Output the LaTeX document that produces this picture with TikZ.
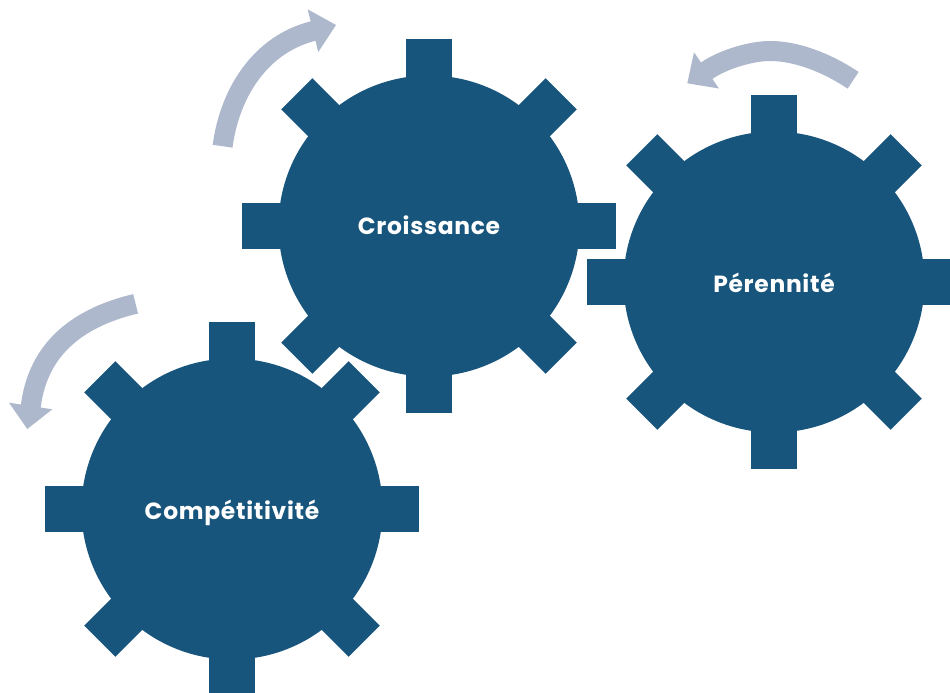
\documentclass[tikz,border=0pt]{standalone}
\usepackage{fontspec}
\setmainfont{Poppins}[LetterSpace=3]
\definecolor{gearblue}{HTML}{18557C}
\definecolor{arrowgrey}{HTML}{AEB8CC}
\tikzset{
  gearbody/.style={circle,fill=gearblue,minimum size=301pt,inner sep=0pt},
  gearlabel/.style={inner sep=0pt,text=white,text height=18pt,text depth=2pt,
    font=\fontsize{23.4}{28}\selectfont\bfseries},
  tooth/.style={fill=gearblue,draw=none},
  turnshaft/.style={draw=arrowgrey,line width=20pt,line cap=butt,line join=bevel},
  turnhead/.style={fill=arrowgrey,draw=none}
}
\newcommand{\makegear}[5]{%
  \foreach \a in {0,90,180,270}{
    \fill[tooth,shift={(#2,#3)},rotate=\a] (0,-23) rectangle (187,23);
  }
  \foreach \a in {45,135,225,315}{
    \fill[tooth,shift={(#2,#3)},rotate=\a] (0,-22) rectangle (187,22);
  }
  \node[gearbody] (#1) at (#2,#3) {};
  \node[gearlabel] (#1 label) at (#2,#5) {#4};
}
\begin{document}
\begin{tikzpicture}[x=1pt,y=-1pt]
\useasboundingbox (0,0) rectangle (950,693);
\clip (0,0) rectangle (950,693);
\makegear{croissance}{429}{226}{Croissance}{226}
\makegear{perennite}{774}{282}{Pérennité}{284}
\makegear{competitivite}{232}{509}{Compétitivité}{511.2}
% Croissance arrow
\coordinate (aS) at (222.6,146.2);
\coordinate (aE) at (313.3,31);
\coordinate (aH) at (318.1,29.8);
\draw[turnshaft] (aS) .. controls (229.8,92) and (261,44) .. (aE) -- (aH);
\fill[turnhead] (307.7,9.3) -- (336,25) -- (318.3,52) -- cycle;
% Competitivite arrow
\coordinate (bS) at (135.6,303.8);
\coordinate (bE) at (30.8,406);
\coordinate (bH) at (30.3,411);
\draw[turnshaft] (bS) .. controls (76,318) and (38,350) .. (bE) -- (bH);
\fill[turnhead] (9,402.7) -- (27.3,429) -- (52.3,409.3) -- cycle;
% Perennite arrow
\coordinate (cS) at (853.1,80.3);
\coordinate (cT) at (770,51);
\coordinate (cE) at (707,70.5);
\coordinate (cH) at (702.9,73.4);
\draw[turnshaft] (cS) .. controls (825,61.5) and (795,51) .. (cT)
  .. controls (750,51) and (721.8,60.2) .. (cE) -- (cH);
\fill[turnhead] (694,52.3) -- (687.3,83.3) -- (719,88.5) -- cycle;
\end{tikzpicture}
\end{document}
